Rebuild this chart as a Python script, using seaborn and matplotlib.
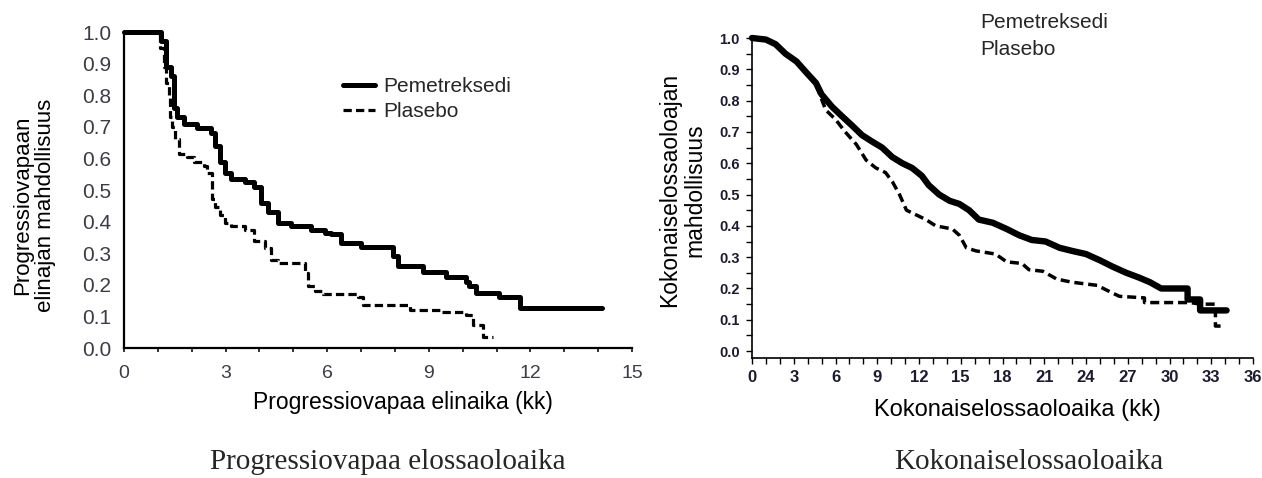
import numpy as np
import pandas as pd
import matplotlib
matplotlib.use("Agg")
import matplotlib.pyplot as plt
import seaborn as sns
from matplotlib.ticker import MultipleLocator, FormatStrFormatter

# ---- Data ----
# Left panel: progression-free survival
pfs_t_pem = [0, 1.10, 1.25, 1.40, 1.48, 1.57, 1.77, 2.17, 2.56, 2.70, 2.82, 2.97, 3.15, 3.56,
             3.85, 4.04, 4.24, 4.54, 4.93, 5.53, 5.93, 6.10, 6.40, 7.00, 7.95, 8.10, 8.84,
             9.52, 10.10, 10.20, 10.40, 11.07, 11.70, 14.10]
pfs_s_pem = [1.0, 0.97, 0.89, 0.86, 0.76, 0.73, 0.71, 0.695, 0.68, 0.64, 0.59, 0.555, 0.535, 0.525,
             0.51, 0.46, 0.43, 0.395, 0.385, 0.375, 0.365, 0.36, 0.333, 0.32, 0.29, 0.26, 0.24,
             0.225, 0.21, 0.195, 0.175, 0.16, 0.127, 0.127]
pfs_t_pla = [0, 1.05, 1.18, 1.25, 1.33, 1.37, 1.42, 1.52, 1.63, 1.87, 2.07, 2.37, 2.46, 2.61,
             2.70, 2.82, 2.97, 3.15, 3.56, 3.85, 4.15, 4.34, 4.54, 4.90, 5.33, 5.43, 5.63,
             5.87, 6.90, 7.07, 8.45, 9.38, 10.10, 10.30, 10.60, 10.90]
pfs_s_pla = [1.0, 0.95, 0.89, 0.84, 0.79, 0.73, 0.70, 0.66, 0.615, 0.605, 0.59, 0.575, 0.555, 0.47,
             0.445, 0.42, 0.395, 0.385, 0.375, 0.34, 0.315, 0.28, 0.27, 0.27, 0.237, 0.195, 0.18,
             0.17, 0.16, 0.137, 0.12, 0.115, 0.105, 0.073, 0.035, 0.035]

# Right panel: overall survival
os_t_pem = [0, 1.0, 1.7, 2.4, 3.2, 3.9, 4.6, 5.0, 5.76, 6.47, 7.2, 7.9, 8.6, 9.35, 10.07, 10.8,
            11.5, 12.2, 12.7, 13.45, 14.2, 14.9, 15.6, 16.3, 17.3, 18.3, 19.2, 20.1, 21.1, 22.1,
            23.0, 24.0, 25.0, 25.9, 26.9, 27.8, 28.6, 29.4, 31.3, 31.3, 32.2, 32.2, 34.1]
os_s_pem = [1.0, 0.995, 0.98, 0.95, 0.925, 0.89, 0.856, 0.82, 0.78, 0.75, 0.72, 0.69, 0.67, 0.65,
            0.62, 0.60, 0.585, 0.56, 0.53, 0.50, 0.48, 0.47, 0.45, 0.42, 0.41, 0.39, 0.37, 0.355,
            0.35, 0.33, 0.32, 0.31, 0.29, 0.27, 0.25, 0.235, 0.22, 0.20, 0.20, 0.165, 0.165, 0.13, 0.13]
os_t_pla = [0, 1.0, 1.7, 2.4, 3.2, 3.9, 4.6, 5.3, 6.0, 6.7, 7.5, 8.2, 8.9, 9.6, 10.1, 10.6, 11.1,
            11.8, 12.5, 13.2, 14.4, 14.9, 15.4, 16.1, 17.5, 18.3, 19.4, 19.9, 20.9, 21.9, 23.0,
            24.8, 25.7, 26.4, 28.2, 28.2, 30.0, 31.5, 32.2, 33.3, 33.3, 34.0]
os_s_pla = [1.0, 0.995, 0.98, 0.95, 0.925, 0.89, 0.85, 0.77, 0.74, 0.70, 0.66, 0.61, 0.585, 0.57,
            0.54, 0.50, 0.45, 0.435, 0.42, 0.40, 0.39, 0.37, 0.33, 0.32, 0.31, 0.285, 0.28, 0.26,
            0.255, 0.23, 0.22, 0.21, 0.19, 0.175, 0.17, 0.155, 0.155, 0.155, 0.15, 0.15, 0.08, 0.08]

series_names = ["Pemetreksedi", "Plasebo"]
left_xticks = [0, 3, 6, 9, 12, 15]
right_xticks = list(range(0, 37, 3))

# ---- Style ----
sns.set_style("white")
plt.rcParams["font.family"] = ["Liberation Sans", "DejaVu Sans"]
narrow = ["Liberation Sans Narrow", "Liberation Sans", "DejaVu Sans"]

W, H = 1262, 478
fig = plt.figure(figsize=(W / 100, H / 100), dpi=100)
fig.patch.set_facecolor("white")

# ---- Left panel ----
ax1 = fig.add_axes([124 / W, 1 - 348 / H, 508 / W, 316 / H])
sns.lineplot(x=pfs_t_pem, y=pfs_s_pem, ax=ax1, color="black", lw=3.6, estimator=None, sort=False,
             drawstyle="steps-post", label=series_names[0], clip_on=False)
sns.lineplot(x=pfs_t_pla, y=pfs_s_pla, ax=ax1, color="black", lw=2.3, estimator=None, sort=False,
             drawstyle="steps-post", linestyle=(0, (2.6, 1.3)), label=series_names[1], clip_on=False)
ax1.set_xlim(0, 15)
ax1.set_ylim(0, 1.0)
ax1.set_xticks(left_xticks)
ax1.xaxis.set_minor_locator(MultipleLocator(1))
ax1.set_yticks(np.round(np.arange(0, 1.01, 0.1), 1))
ax1.yaxis.set_major_formatter(FormatStrFormatter("%.1f"))
for s in ["top", "right"]:
    ax1.spines[s].set_visible(False)
for s in ["left", "bottom"]:
    ax1.spines[s].set_linewidth(1.6)
    ax1.spines[s].set_color("black")
ax1.tick_params(axis="x", which="both", direction="out", length=3, width=1.1, color="black",
                pad=9, labelsize=14, labelcolor="#3c3c46", bottom=True)
ax1.tick_params(axis="y", which="both", length=0, pad=9, labelsize=15, labelcolor="#3c3c46")
ax1.set_xlabel("Progressiovapaa elinaika (kk)", fontsize=16.5, color="black")
ax1.xaxis.set_label_coords((403 - 124) / 508, -(402 - 348) / 316)
ax1.xaxis.label.set_va("center")
ax1.set_ylabel("Progressiovapaan\nelinajan mahdollisuus", fontsize=16, color="black",
               linespacing=1.15)
ax1.yaxis.set_label_coords((34 - 124) / 508, (348 - 205) / 316)
ax1.yaxis.label.set_va("center")
leg = ax1.legend(loc="upper left", bbox_to_anchor=(343 / W, 1 - 77 / H),
                 bbox_transform=fig.transFigure, frameon=False, fontsize=15,
                 handlelength=1.55, handletextpad=0.4, labelspacing=0.3, borderpad=0,
                 borderaxespad=0)
for ln in leg.get_lines():
    ln.set_color("black")

# ---- Right panel ----
ax2 = fig.add_axes([752 / W, 1 - 358 / H, 501 / W, 320 / H])
sns.lineplot(x=os_t_pem, y=os_s_pem, ax=ax2, color="black", lw=4.6, estimator=None, sort=False,
             clip_on=False, legend=False)
sns.lineplot(x=os_t_pla, y=os_s_pla, ax=ax2, color="black", lw=2.5, estimator=None, sort=False,
             linestyle=(0, (2.6, 1.4)), clip_on=False, legend=False)
ax2.set_xlim(0, 36)
ax2.set_ylim(-0.022, 1.0)
ax2.set_xticks(right_xticks)
ax2.xaxis.set_minor_locator(MultipleLocator(1))
ax2.set_yticks(np.round(np.arange(0, 1.01, 0.1), 1))
ax2.yaxis.set_minor_locator(MultipleLocator(0.05))
ax2.yaxis.set_major_formatter(FormatStrFormatter("%.1f"))
for s in ["top", "right"]:
    ax2.spines[s].set_visible(False)
for s in ["left", "bottom"]:
    ax2.spines[s].set_linewidth(1.2)
    ax2.spines[s].set_color("black")
ax2.tick_params(axis="both", which="both", direction="out", length=4, width=1.0, color="black",
                left=True, bottom=True)
ax2.tick_params(axis="x", pad=5)
ax2.tick_params(axis="y", pad=5)
for lab in ax2.get_xticklabels():
    lab.set_fontfamily(narrow)
    lab.set_fontweight("bold")
    lab.set_fontsize(12)
    lab.set_color("#1c1c2e")
for lab in ax2.get_yticklabels():
    lab.set_fontfamily(narrow)
    lab.set_fontweight("bold")
    lab.set_fontsize(10.5)
    lab.set_color("#1c1c2e")
ax2.set_xlabel("Kokonaiselossaoloaika (kk)", fontsize=17, color="black")
ax2.xaxis.set_label_coords((1017 - 752) / 501, -(410 - 358) / 320)
ax2.xaxis.label.set_va("center")
ax2.set_ylabel("Kokonaiselossaoloajan\nmahdollisuus", fontsize=16.5, color="black",
               linespacing=1.15)
ax2.yaxis.set_label_coords((682 - 752) / 501, (358 - 190) / 320)
ax2.yaxis.label.set_va("center")

fig.text(980 / W, 1 - 28 / H, series_names[0], fontsize=15, ha="left", va="baseline")
fig.text(980 / W, 1 - 55 / H, series_names[1], fontsize=15, ha="left", va="baseline")

# ---- Captions ----
fig.text(388 / W, 1 - 462 / H, "Progressiovapaa elossaoloaika", family="Liberation Serif",
         fontsize=21, ha="center", va="center")
fig.text(1029 / W, 1 - 462 / H, "Kokonaiselossaoloaika", family="Liberation Serif",
         fontsize=21, ha="center", va="center")

fig.savefig("out.png", dpi=100, facecolor="white")
